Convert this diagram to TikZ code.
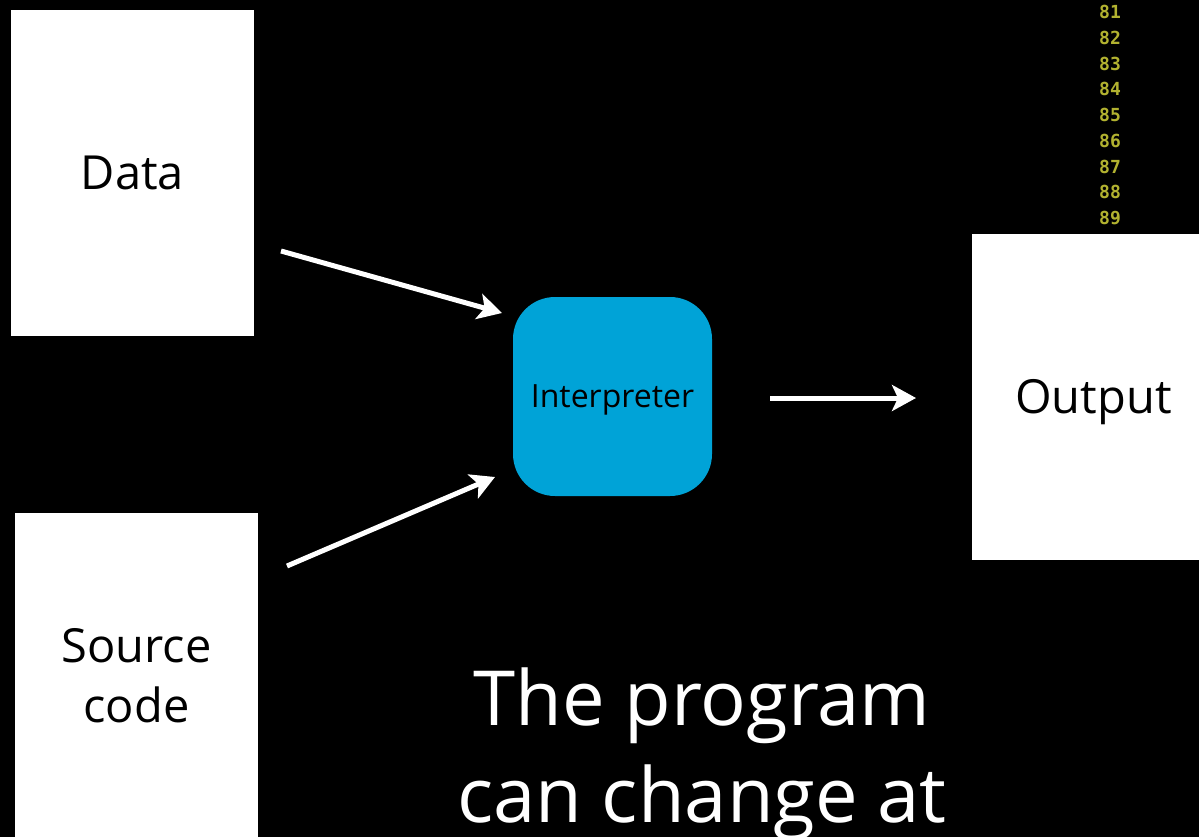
\documentclass[tikz,border=0pt]{standalone}
\usepackage{fontspec}
\setmainfont{Open Sans}
\newfontfamily\codefont{DejaVu Sans Mono}
\usetikzlibrary{arrows.meta}
\definecolor{interpblue}{RGB}{0,163,215}
\definecolor{lineno}{RGB}{178,178,48}
\tikzset{
  whitebox/.style={fill=white, draw=none, minimum width=243pt, minimum height=326pt,
    inner sep=0pt, align=center, font=\fontsize{47}{60}\selectfont},
  flowarrow/.style={draw=white, line width=5pt,
    -{Stealth[length=24pt, width=26pt, inset=6pt]}},
  numlabel/.style={text=lineno, font=\codefont\bfseries\fontsize{18}{18}\selectfont, inner sep=0pt}
}
\begin{document}
\begin{tikzpicture}[x=1pt, y=-1pt]
  \fill[black] (0,0) rectangle (1199,837);
  \useasboundingbox (0,0) rectangle (1199,837);

  % line numbers of the code listing
  \foreach \n [count=\i from 0] in {81,...,89}
    \node[numlabel] (ln\n) at (1110, 12+25.75*\i) {\n};

  % boxes
  \node[whitebox, text depth=0pt] (data) at (132.5,173) {Data};
  \node[whitebox] (source) at (136.5,676) {Source\\code};
  \node[whitebox, text depth=0pt] (output) at (1093.5,396.5) {Output};
  \node[fill=interpblue, rounded corners=42pt, minimum width=199pt, minimum height=199pt,
        inner sep=0pt, text depth=0pt, font=\fontsize{32}{34}\selectfont] (interp)
        at (612.5,396.5) {Interpreter};

  % arrows
  \coordinate (dataout) at (281,251);
  \coordinate (datain) at (502,313);
  \coordinate (srcout) at (287,566);
  \coordinate (srcin) at (495,477);
  \coordinate (interpout) at (770,398);
  \coordinate (outin) at (916,398);
  \draw[flowarrow] (dataout) -- (datain);
  \draw[flowarrow] (srcout) -- (srcin);
  \draw[flowarrow] (interpout) -- (outin);

  % caption
  \node[text=white, align=center, anchor=base, inner sep=0pt,
        font=\fontsize{76}{97}\selectfont] (caption) at (702,822)
        {The program\\can change at};
\end{tikzpicture}
\end{document}
